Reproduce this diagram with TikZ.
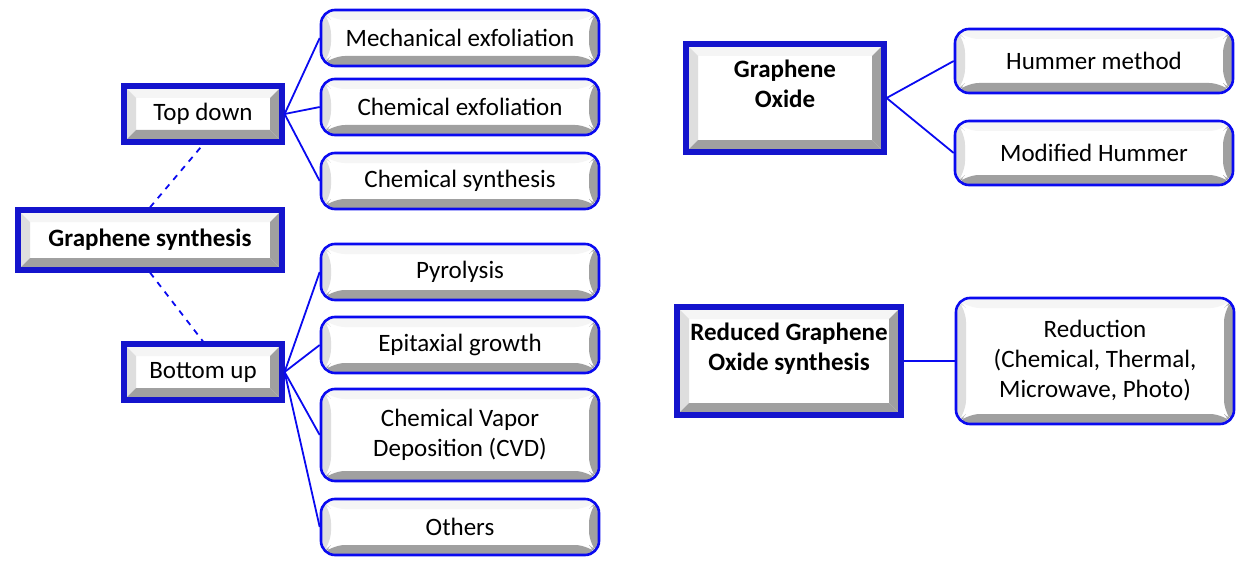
\documentclass[tikz,border=0pt]{standalone}
\usepackage{fontspec}
\setmainfont{Carlito}
\usetikzlibrary{positioning,calc}
\definecolor{bevellight}{RGB}{222,222,222}
\definecolor{beveltop}{RGB}{245,245,245}
\definecolor{beveldark}{RGB}{160,160,160}
\definecolor{framecol}{RGB}{20,20,205}
\definecolor{linecol}{RGB}{10,10,240}

\begin{document}
\begin{tikzpicture}
	[x=0.5pt,y=-0.5pt,
	bevel/.style={path picture={
		\path (path picture bounding box.south west) coordinate (sw)
		(path picture bounding box.north west) coordinate (nw)
		(path picture bounding box.north east) coordinate (ne)
		(path picture bounding box.south east) coordinate (se);
		\fill[beveltop] (nw) -- (ne) -- ($(ne)+(-#1,-#1)$) -- ($(nw)+(#1,-#1)$) -- cycle;
		\fill[bevellight] (sw) -- (nw) -- ($(nw)+(#1,-#1)$) -- ($(sw)+(#1,#1)$) -- cycle;
		\fill[beveldark] (se) -- (ne) -- ($(ne)+(-#1,-#1)$) -- ($(se)+(-#1,#1)$) -- cycle;
		\fill[beveldark] (sw) -- (se) -- ($(se)+(-#1,#1)$) -- ($(sw)+(#1,#1)$) -- cycle;
	}},
	frame node/.style={shape=rectangle,draw=framecol,line width=2.6pt,fill=white,bevel=6pt,
		font=\fontsize{12.5}{15}\selectfont,align=center,minimum width=79pt,minimum height=28pt},
	root node/.style={frame node,font=\fontsize{12.5}{15}\selectfont\bfseries},
	leaf node/.style={shape=rectangle,rounded corners=7pt,draw=linecol,line width=1.3pt,fill=white,bevel=5pt,
		font=\fontsize{12.5}{15}\selectfont,align=center,minimum width=139pt,minimum height=28pt}]
	\node [root node,minimum width=132pt,minimum height=30pt] (gs) at (150,240) {Graphene synthesis};
	\node [frame node] (td) at (203,114) {Top down};
	\node [frame node] (bu) at (203,372) {Bottom up};
	
	\node [leaf node] (me) at (460,38) {Mechanical exfoliation};
	\node [leaf node] (ce) at (460,107) {Chemical exfoliation};
	\node [leaf node] (cs) at (460,181) {Chemical synthesis};
	\node [leaf node] (py) at (460,272) {Pyrolysis};
	\node [leaf node] (eg) at (460,345) {Epitaxial growth};
	\node [leaf node,minimum height=46pt] (cvd) at (460,435) {Chemical Vapor\\Deposition (CVD)};
	\node [leaf node] (ot) at (460,527) {Others};
	
	\node [root node,minimum width=99pt,minimum height=54pt,text depth=14pt] (go) at (785,98) {Graphene\\Oxide};
	\node [leaf node,minimum height=32pt] (hm) at (1094,61) {Hummer method};
	\node [leaf node,minimum height=32pt] (mh) at (1094,153) {Modified Hummer};
	
	\node [root node,minimum width=112pt,minimum height=54pt,text depth=14pt] (rgo) at (789,361) {Reduced Graphene\\Oxide synthesis};
	\node [leaf node,minimum height=63pt] (red) at (1095,361) {Reduction\\(Chemical, Thermal,\\Microwave, Photo)};
	
	\path[draw=linecol,line width=0.9pt]
	(td.east) edge (me.west)
	(td.east) edge (ce.west)
	(td.east) edge (cs.west)
	
	(bu.east) edge (py.west)
	(bu.east) edge (eg.west)
	(bu.east) edge (cvd.west)
	(bu.east) edge (ot.west)
	
	(gs.north) edge [dashed] (td.south)
	(gs.south) edge [dashed] (bu.north)
	
	(go.east) edge (hm.west)
	(go.east) edge (mh.west)
	(rgo.east) edge (red.west)
	;
	
	\useasboundingbox (0,0) rectangle (1252,567);
\end{tikzpicture}
\end{document}
